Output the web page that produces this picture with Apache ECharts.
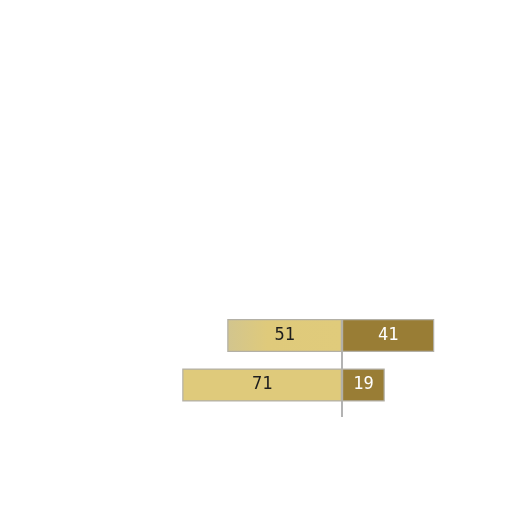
<!DOCTYPE html>
<html><head><meta charset="utf-8">
<script src="https://cdn.jsdelivr.net/npm/echarts@6/dist/echarts.min.js"></script>
<style>html,body{margin:0;padding:0;background:#fff}#c{width:512px;height:512px}</style>
</head><body><div id="c"></div>
<script>
const categories = ['A', 'B'];
const leftValues = [51, 71];
const rightValues = [41, 19];

const chart = echarts.init(document.getElementById('c'));
const labelFont = { fontFamily: '"DejaVu Sans Mono", monospace', fontSize: 17 };
const leftGradient = new echarts.graphic.LinearGradient(0, 0, 1, 0, [
  { offset: 0, color: '#d2c58e' }, { offset: 0.35, color: '#dfca7b' }, { offset: 1, color: '#e0cb7b' }
]);
chart.setOption({
  animation: false,
  grid: { left: 117, right: 35, top: 310.75, bottom: 512 - 409.75 },
  xAxis: { type: 'value', min: -100, max: 60, show: false },
  yAxis: { type: 'category', data: categories, inverse: true, show: false },
  series: [
    {
      type: 'bar', stack: 's', barWidth: 33,
      data: leftValues.map((v, i) => i === 0 ? { value: -v, itemStyle: { color: leftGradient } } : -v),
      itemStyle: { color: '#dfca7b', borderColor: '#b3b0a6', borderWidth: 1.2 },
      label: { show: true, position: 'inside', color: '#1e1e1e', formatter: p => String(-p.value), ...labelFont },
      z: 3
    },
    {
      type: 'bar', stack: 's', barWidth: 33,
      data: rightValues,
      itemStyle: { color: '#997d35', borderColor: '#b3b0a6', borderWidth: 1.2 },
      label: { show: true, position: 'inside', color: '#fff', ...labelFont },
      z: 3
    }
  ]
});
const p1 = chart.convertToPixel({ gridIndex: 0 }, [0, 0]);
const p2 = chart.convertToPixel({ gridIndex: 0 }, [0, 1]);
chart.setOption({
  graphic: [{
    type: 'line', z: 1,
    shape: { x1: p1[0], y1: p1[1], x2: p2[0], y2: p2[1] + 32 },
    style: { stroke: '#9a9a9a', lineWidth: 1.5 }
  }]
});
</script></body></html>
